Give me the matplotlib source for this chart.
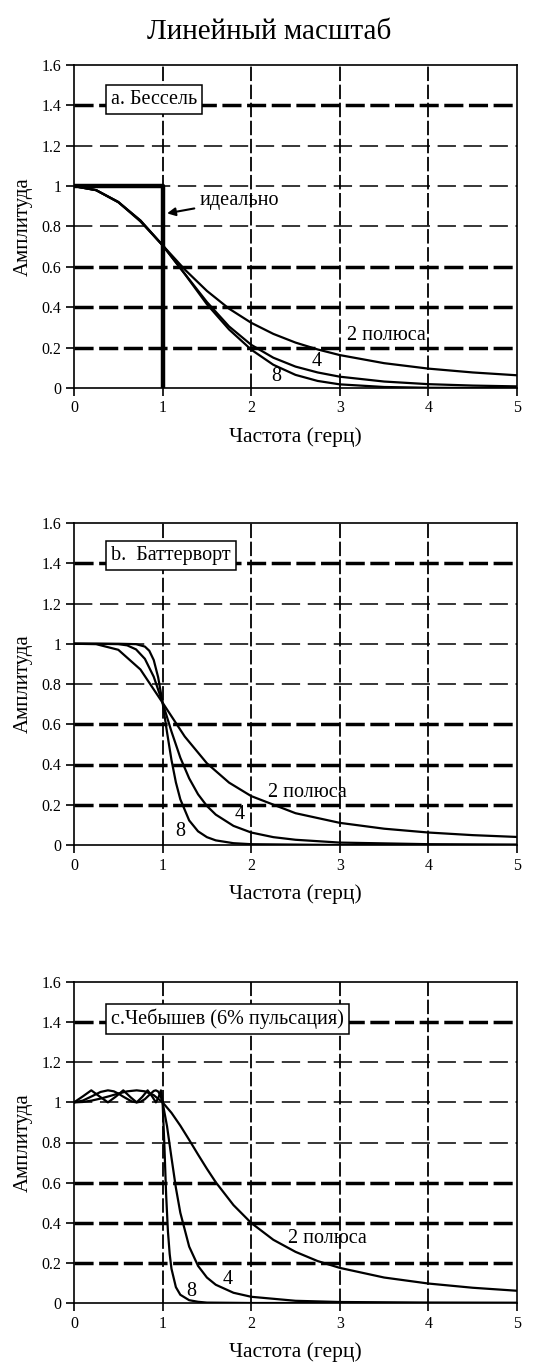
import matplotlib
matplotlib.use('Agg')
import matplotlib.pyplot as plt

plt.rcParams['font.family'] = ['Liberation Serif', 'DejaVu Serif']

# Bessel (a)
bes_x = [0, 0.25, 0.5, 0.75, 1.0, 1.25, 1.5, 1.75, 2.0, 2.25, 2.5, 2.75, 3.0, 3.5, 4.0, 4.5, 5.0]
bes2_y = [1, 0.98, 0.921, 0.825, 0.707, 0.587, 0.481, 0.393, 0.323, 0.268, 0.225, 0.191, 0.163, 0.123, 0.096, 0.077, 0.063]
bes4_y = [1, 0.98, 0.922, 0.829, 0.707, 0.566, 0.426, 0.305, 0.214, 0.150, 0.106, 0.077, 0.056, 0.032, 0.019, 0.012, 0.008]
bes8_y = [1, 0.98, 0.92, 0.83, 0.707, 0.565, 0.415, 0.29, 0.19, 0.115, 0.065, 0.035, 0.018, 0.005, 0.0012, 0.0003, 0.0001]
ideal_x = [0, 1, 1]
ideal_y = [1, 1, 0]

# Butterworth (b)
but2_x = [0, 0.25, 0.5, 0.75, 1.0, 1.25, 1.5, 1.75, 2.0, 2.5, 3.0, 3.5, 4.0, 4.5, 5.0]
but2_y = [1, 0.998, 0.970, 0.872, 0.707, 0.539, 0.406, 0.310, 0.243, 0.158, 0.110, 0.081, 0.062, 0.049, 0.040]
but4_x = [0, 0.25, 0.5, 0.6, 0.7, 0.8, 0.9, 1.0, 1.1, 1.2, 1.3, 1.4, 1.5, 1.6, 1.8, 2.0, 2.25, 2.5, 3.0, 4.0, 5.0]
but4_y = [1, 1, 0.998, 0.992, 0.972, 0.925, 0.836, 0.707, 0.564, 0.434, 0.331, 0.252, 0.194, 0.151, 0.095, 0.062, 0.039, 0.026, 0.012, 0.004, 0.002]
but8_x = [0, 0.5, 0.7, 0.8, 0.85, 0.9, 0.95, 1.0, 1.05, 1.1, 1.15, 1.2, 1.3, 1.4, 1.5, 1.6, 1.8, 2.0, 3.0, 5.0]
but8_y = [1, 1, 0.998, 0.986, 0.965, 0.919, 0.833, 0.707, 0.560, 0.423, 0.311, 0.227, 0.122, 0.068, 0.039, 0.023, 0.009, 0.004, 0, 0]

# Chebyshev 6% ripple (c)
ch2_x = [0, 0.1, 0.2, 0.3, 0.4, 0.5, 0.6, 0.707, 0.8, 0.9, 1.0, 1.1, 1.2, 1.3, 1.4, 1.5, 1.6, 1.8, 2.0,
         2.25, 2.5, 2.75, 3.0, 3.5, 4.0, 4.5, 5.0]
ch2_y = [1, 1.002, 1.009, 1.019, 1.031, 1.044, 1.055, 1.06, 1.055, 1.036, 1.0, 0.948, 0.884, 0.813, 0.740,
         0.669, 0.602, 0.488, 0.399, 0.315, 0.255, 0.209, 0.175, 0.127, 0.097, 0.076, 0.061]
ch4_x = [0, 0.1, 0.2, 0.3, 0.383, 0.45, 0.5, 0.55, 0.65, 0.707, 0.75, 0.8, 0.85, 0.9, 0.924, 0.95, 0.97, 1.0,
         1.05, 1.1, 1.15, 1.2, 1.3, 1.4, 1.5, 1.6, 1.8, 2.0, 2.5, 3.0, 4.0, 5.0]
ch4_y = [1, 1.009, 1.030, 1.052, 1.06, 1.055, 1.044, 1.030, 1.005, 1.0, 1.003, 1.016, 1.037, 1.057, 1.06, 1.054,
         1.040, 1.0, 0.881, 0.725, 0.574, 0.450, 0.281, 0.185, 0.127, 0.091, 0.051, 0.031, 0.011, 0.005, 0.002, 0.001]
ch8_x = [0, 0.1, 0.195, 0.29, 0.383, 0.47, 0.556, 0.64, 0.707, 0.77, 0.831, 0.88, 0.924, 0.955, 0.981, 1.0,
         1.02, 1.04, 1.06, 1.08, 1.1, 1.15, 1.2, 1.3, 1.4, 1.5, 2.0, 5.0]
ch8_y = [1, 1.030, 1.06, 1.029, 1.0, 1.028, 1.06, 1.025, 1.0, 1.027, 1.06, 1.031, 1.0, 1.026, 1.06, 1.0,
         0.786, 0.539, 0.358, 0.244, 0.171, 0.079, 0.041, 0.014, 0.006, 0.002, 0, 0]

y_ticks = [0, 0.2, 0.4, 0.6, 0.8, 1, 1.2, 1.4, 1.6]
y_tick_labels = ['0', '0.2', '0.4', '0.6', '0.8', '1', '1.2', '1.4', '1.6']
x_ticks = [0, 1, 2, 3, 4, 5]
thick_rows = [0.2, 0.4, 0.6, 1.4]

W, H = 537, 1367
fig = plt.figure(figsize=(W / 100, H / 100), dpi=100)
fig.text(269 / W, 1 - 32 / H, 'Линейный масштаб', ha='center', va='center', fontsize=21)

fs = 14.5


def setup(ax, box_text, box_y):
    ax.set_xlim(0, 5)
    ax.set_ylim(0, 1.6)
    for y in y_ticks[1:-1]:
        if y in thick_rows:
            ax.axhline(y, color='black', lw=2.5, ls=(0, (5.5, 1.6)), zorder=1)
        else:
            ax.axhline(y, color='black', lw=1.1, ls=(0, (12, 5)), zorder=1)
    for x in x_ticks[1:-1]:
        ax.axvline(x, color='black', lw=1.3, ls=(0, (8, 2)), zorder=1)
    for s in ax.spines.values():
        s.set_linewidth(1.2)
    ax.set_xticks(x_ticks)
    ax.set_yticks(y_ticks)
    ax.set_yticklabels(y_tick_labels)
    ax.tick_params(direction='out', length=6, width=1.2, labelsize=11.5, pad=3)
    ax.set_xlabel('Частота (герц)', fontsize=15.5, labelpad=8)
    ax.set_ylabel('Амплитуда', fontsize=15, labelpad=6)
    ax.text(0.42, box_y, box_text, fontsize=fs, ha='left', va='center', zorder=5,
            bbox=dict(boxstyle='square,pad=0.25', fc='white', ec='black', lw=1.1))


def panel(top, bottom):
    return fig.add_axes([74 / W, 1 - bottom / H, (517 - 74) / W, (bottom - top) / H])


lw = 1.6

ax = panel(65, 388)
setup(ax, 'a. Бессель', 1.43)
ax.plot(ideal_x, ideal_y, color='black', lw=3.2, zorder=3)
ax.plot(bes_x, bes2_y, color='black', lw=lw, zorder=3)
ax.plot(bes_x, bes4_y, color='black', lw=lw, zorder=3)
ax.plot(bes_x, bes8_y, color='black', lw=lw, zorder=3)
ax.annotate('идеально', xy=(1.05, 0.865), xytext=(1.42, 0.93), fontsize=fs, va='center',
            arrowprops=dict(arrowstyle='-|>', color='black', lw=1.5, mutation_scale=12,
                            shrinkA=2, shrinkB=0))
ax.text(3.08, 0.26, '2 полюса', fontsize=fs, va='center', zorder=5)
ax.text(2.74, 0.13, '4', fontsize=fs, ha='center', va='center', zorder=5)
ax.text(2.28, 0.055, '8', fontsize=fs, ha='center', va='center', zorder=5)

ax = panel(523, 845)
setup(ax, 'b.  Баттерворт', 1.44)
ax.plot(but2_x, but2_y, color='black', lw=lw, zorder=3)
ax.plot(but4_x, but4_y, color='black', lw=lw, zorder=3)
ax.plot(but8_x, but8_y, color='black', lw=lw, zorder=3)
ax.text(2.19, 0.26, '2 полюса', fontsize=fs, va='center', zorder=5)
ax.text(1.87, 0.15, '4', fontsize=fs, ha='center', va='center', zorder=5)
ax.text(1.2, 0.065, '8', fontsize=fs, ha='center', va='center', zorder=5)

ax = panel(982, 1303)
setup(ax, 'c.Чебышев (6% пульсация)', 1.415)
ax.plot(ch2_x, ch2_y, color='black', lw=lw, zorder=3)
ax.plot(ch4_x, ch4_y, color='black', lw=lw, zorder=3)
ax.plot(ch8_x, ch8_y, color='black', lw=lw, zorder=3)
ax.text(2.42, 0.32, '2 полюса', fontsize=fs, va='center', zorder=5)
ax.text(1.74, 0.115, '4', fontsize=fs, ha='center', va='center', zorder=5)
ax.text(1.32, 0.055, '8', fontsize=fs, ha='center', va='center', zorder=5)

fig.savefig('out.png', dpi=100)
